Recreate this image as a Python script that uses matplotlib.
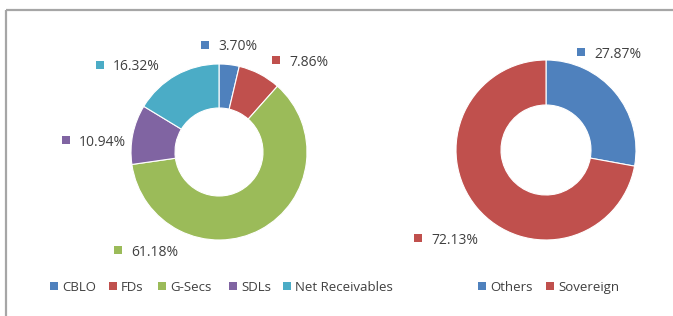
import matplotlib
matplotlib.use('Agg')
import matplotlib.pyplot as plt

# data
left_labels = ['CBLO', 'FDs', 'G-Secs', 'SDLs', 'Net Receivables']
left_values = [3.70, 7.86, 61.18, 10.94, 16.32]
right_labels = ['Others', 'Sovereign']
right_values = [27.87, 72.13]

left_colors = ['#4F81BD', '#C0504D', '#9BBB59', '#8064A2', '#4BACC6']
right_colors = ['#4F81BD', '#C0504D']

# pixel layout (x, y from top-left)
W, H = 673, 316
left_lbl_pos = [(205, 45), (276, 60), (118, 250), (66, 140), (100, 65)]
right_lbl_pos = [(581, 52), (418, 238)]
left_leg_x = [54, 113, 162, 233, 287]
right_leg_x = [482, 550]
leg_y = 286

plt.rcParams['font.family'] = ['Open Sans', 'DejaVu Sans']
txt_color = '#404040'

fig = plt.figure(figsize=(W / 100, H / 100), dpi=100)


def donut(cx, cy, r, values, colors):
    ax = fig.add_axes([(cx - r) / W, (H - cy - r) / H, 2 * r / W, 2 * r / H])
    ax.pie(values, colors=colors, startangle=90, counterclock=False,
           radius=1, wedgeprops=dict(width=0.5, edgecolor='white', linewidth=0.8))
    ax.set_xlim(-1, 1)
    ax.set_ylim(-1, 1)
    ax.set_aspect('auto')
    ax.axis('off')


donut(219, 152, 88, left_values, left_colors)
donut(546, 150, 90, right_values, right_colors)

# overlay in pixel coordinates
ov = fig.add_axes([0, 0, 1, 1])
ov.set_xlim(0, W)
ov.set_ylim(H, 0)
ov.axis('off')

# frame
ov.plot([6, W], [10, 10], color='#A6A6A6', lw=1.6, solid_capstyle='butt')
ov.plot([6, 6], [10, H], color='#A6A6A6', lw=1.6, solid_capstyle='butt')


def marker_text(x, y, s, c, gap, size):
    ov.plot(x, y, 's', color=c, markersize=5.5, markeredgewidth=0)
    ov.text(x + gap, y, s, color=txt_color, fontsize=size,
            va='center_baseline', ha='left')


for (x, y), v, c in zip(left_lbl_pos, left_values, left_colors):
    marker_text(x, y, f'{v:.2f}%', c, 13, 10)
for (x, y), v, c in zip(right_lbl_pos, right_values, right_colors):
    marker_text(x, y, f'{v:.2f}%', c, 13, 10)

for x, s, c in zip(left_leg_x, left_labels, left_colors):
    marker_text(x, leg_y, s, c, 8, 9.5)
for x, s, c in zip(right_leg_x, right_labels, right_colors):
    marker_text(x, leg_y, s, c, 8, 9.5)

fig.savefig('out.png', dpi=100)
